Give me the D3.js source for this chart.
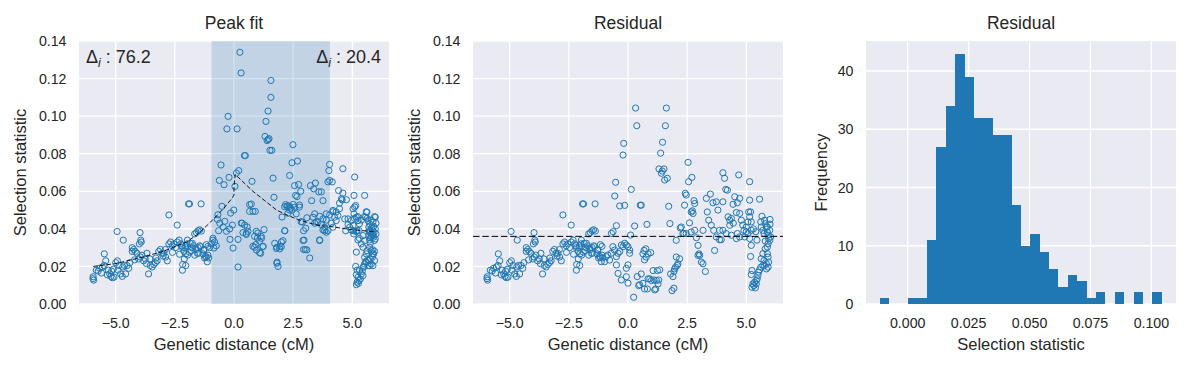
<!DOCTYPE html>
<html>
<head>
<meta charset="utf-8">
<script src="https://cdn.jsdelivr.net/npm/d3@7"></script>
<style>
  body { margin: 0; background: #ffffff; }
  svg text { font-family: "Liberation Sans", Arial, sans-serif; fill: #262626; }
</style>
</head>
<body>
<div id="chart"></div>
<script>
////////////////////////////////////////////////////////////////////////
// Data

// points left of the peak window, identical in both scatter panels
let flankPoints = [
  [-5.96,0.0135],[-5.93,0.0127],[-5.95,0.0145],[-5.82,0.018],[-5.74,0.0175],[-5.68,0.019],
  [-5.56,0.0197],[-5.49,0.0205],[-5.48,0.0267],[-5.42,0.023],[-5.31,0.018],[-5.25,0.016],
  [-5.2,0.0147],[-5.14,0.014],[-5.07,0.0143],[-5.17,0.0175],[-5.0,0.022],[-4.93,0.023],
  [-4.86,0.0205],[-4.94,0.0386],[-4.68,0.034],[-4.79,0.016],[-4.72,0.0147],[-4.58,0.016],
  [-4.7,0.0197],[-4.52,0.0205],[-4.45,0.019],[-4.63,0.0205],[-4.3,0.030],[-4.24,0.029],
  [-4.17,0.028],[-4.3,0.028],[-4.1,0.027],[-4.03,0.024],[-3.96,0.025],[-3.89,0.026],
  [-3.82,0.023],[-3.75,0.024],[-3.68,0.027],[-3.97,0.038],[-3.94,0.034],[-4.0,0.032],
  [-3.92,0.033],[-3.61,0.016],[-3.54,0.0205],[-3.46,0.0197],[-3.39,0.021],[-3.32,0.022],
  [-3.25,0.023],[-3.18,0.028],[-3.11,0.029],[-3.04,0.027],[-2.97,0.027],[-2.89,0.025],
  [-2.82,0.023],[-2.75,0.0474],[-2.4,0.042],[-2.75,0.032],[-2.68,0.033],[-2.61,0.031],
  [-2.54,0.032],[-2.47,0.030],[-2.4,0.033],[-2.32,0.034],[-2.25,0.032],[-2.18,0.030],
  [-2.11,0.028],[-2.04,0.031],[-1.97,0.034],[-2.18,0.018],[-2.04,0.0205],[-1.92,0.0533],
  [-1.88,0.0533],[-1.39,0.0533],[-1.66,0.0373],[-1.59,0.038],[-1.52,0.039],[-1.45,0.0395],
  [-1.38,0.0388],[-2.2,0.031],[-2.06,0.030],[-1.99,0.032],[-1.85,0.0323],[-1.78,0.030],
  [-1.71,0.031],[-2.17,0.021],[-2.1,0.024],[-2.03,0.0267],[-1.96,0.026],[-1.89,0.0276],
  [-1.66,0.026],[-1.59,0.029],[-1.52,0.030],[-1.45,0.031],[-1.31,0.0267],[-1.24,0.0245],
  [-1.17,0.025],[-1.1,0.026],[-1.28,0.029],[-1.17,0.0316],[-1.1,0.0307],[-1.21,0.0254],
  [-1.07,0.0245],[-5.6,0.0165],[-5.35,0.0155],[-5.1,0.0185],[-4.9,0.018],[-4.4,0.022],
  [-4.2,0.0235],[-3.7,0.0215],[-3.55,0.024],[-3.3,0.0245],[-3.0,0.0255],[-2.9,0.029],
  [-2.6,0.0275],[-2.3,0.0265],[-1.8,0.0285],[-1.5,0.027],[-1.76,0.0323],[-1.62,0.0296],
  [-1.55,0.027],[-1.41,0.0305],[-1.27,0.0287],[-1.13,0.0225]
];

// points from the peak window rightwards, "Peak fit" panel
let peakPoints = [
  [-1.03,0.030],[-0.96,0.032],[-0.89,0.034],[-0.82,0.033],[-0.75,0.031],[-0.89,0.035],
  [-0.85,0.0298],[0.25,0.134],[0.30,0.123],[1.56,0.119],[1.56,0.110],[1.44,0.1027],
  [1.35,0.0972],[-0.25,0.0999],[-0.30,0.0932],[0.13,0.0932],[1.31,0.0892],[1.40,0.087],
  [1.48,0.088],[1.44,0.0875],[1.52,0.0818],[1.60,0.0818],[0.44,0.079],[0.48,0.079],
  [-0.55,0.074],[-0.62,0.0658],[-0.42,0.0635],[-0.21,0.0674],[0.2,0.071],[0.1,0.0697],
  [0.04,0.0626],[0.76,0.0653],[1.65,0.067],[1.69,0.0568],[-0.51,0.052],[-0.14,0.0484],
  [-0.01,0.050],[0.66,0.0529],[0.73,0.0532],[0.66,0.0493],[0.80,0.0493],[0.9,0.0493],
  [2.03,0.0463],[2.18,0.0529],[2.28,0.0523],[2.35,0.050],[2.39,0.051],[-0.68,0.0475],
  [-0.7,0.045],[-0.6,0.043],[-0.39,0.044],[-0.46,0.041],[-0.65,0.039],[-0.32,0.0387],
  [-0.18,0.040],[-0.07,0.042],[0.34,0.043],[0.45,0.042],[0.56,0.041],[0.38,0.038],
  [0.52,0.037],[0.59,0.0387],[-0.17,0.0344],[0.17,0.0344],[-0.04,0.0298],[0.17,0.0197],
  [0.94,0.0387],[1.01,0.0378],[0.87,0.036],[0.99,0.0351],[1.15,0.036],[1.27,0.0396],
  [1.08,0.0334],[0.80,0.0307],[0.87,0.0302],[1.23,0.0307],[1.13,0.027],[0.92,0.0316],
  [1.82,0.0302],[1.94,0.0307],[2.0,0.033],[2.07,0.0337],[2.14,0.039],[1.93,0.0293],
  [1.82,0.0223],[1.86,0.020],[0.31,0.043],[0.52,0.0376],[1.16,0.035],[1.22,0.0305],
  [1.08,0.0273],[0.95,0.0287],[1.72,0.0323],[1.79,0.0296],[1.81,0.0217],[2.0,0.0305],
  [2.49,0.0848],[2.45,0.0752],[2.68,0.0761],[2.35,0.0684],[2.56,0.063],[2.73,0.0636],
  [2.82,0.060],[2.6,0.0578],[2.66,0.0572],[2.5,0.053],[2.35,0.052],[2.24,0.052],
  [2.76,0.0516],[2.45,0.050],[2.63,0.048],[2.15,0.039],[2.14,0.0518],[2.28,0.0483],
  [2.56,0.0515],[2.77,0.0527],[2.89,0.0436],[2.94,0.039],[2.92,0.0338],[2.96,0.034],
  [3.01,0.029],[3.08,0.0288],[3.2,0.0245],[2.94,0.029],[2.84,0.0438],[3.03,0.0403],
  [3.23,0.063],[3.44,0.0644],[3.37,0.0613],[3.58,0.0597],[3.69,0.0597],[3.76,0.055],
  [3.28,0.055],[3.41,0.048],[3.62,0.0467],[3.76,0.0453],[3.9,0.048],[3.34,0.0462],
  [3.08,0.0459],[3.55,0.0436],[3.69,0.0423],[3.83,0.0409],[3.97,0.039],[3.62,0.0338],
  [3.83,0.039],[3.9,0.0382],[3.41,0.043],[3.48,0.0438],[3.62,0.0341],[3.76,0.0394],
  [3.9,0.0447],[4.04,0.0474],[4.11,0.043],[4.18,0.0491],
  [4.15,0.065],[4.04,0.0743],[4.01,0.071],[4.04,0.0658],[3.97,0.065],[4.6,0.072],
  [5.1,0.0676],[4.18,0.0498],[4.32,0.049],[4.25,0.0462],[4.39,0.0471],[4.46,0.0507],
  [4.42,0.0604],[4.6,0.059],[4.75,0.0555],[4.54,0.056],[4.46,0.0537],[4.57,0.0554],
  [4.68,0.0453],[4.82,0.0453],[4.72,0.039],[5.06,0.0373],[4.18,0.0409],[4.32,0.0444],
  [5.07,0.0578],[5.1,0.0516],[5.03,0.0507],[5.14,0.0524],[5.07,0.048],[5.17,0.0462],
  [5.24,0.0444],[5.3,0.0427],[4.96,0.0444],[5.03,0.0418],[4.89,0.0409],[4.82,0.0423],
  [5.2,0.039],[5.28,0.0391],[4.95,0.0394],[5.16,0.0385],[5.3,0.035],[5.09,0.0456],
  [5.23,0.0465],[5.38,0.0447],[5.51,0.0465],[5.59,0.0491],[5.63,0.0456],
  [5.24,0.0341],[5.17,0.0276],[5.14,0.020],[5.2,0.018],[5.17,0.0156],[5.24,0.0142],
  [5.2,0.0116],[5.17,0.0103],[5.28,0.0124],[5.34,0.0133],[5.38,0.016],[5.42,0.0174],
  [5.48,0.0196],[5.52,0.0213],[5.45,0.0151],[5.59,0.0222],[5.52,0.0249],[5.59,0.0267],
  [5.62,0.0284],[5.65,0.0234],[5.56,0.0225],[5.47,0.0199],[5.3,0.0181],[5.26,0.011],
  [5.52,0.0578],[5.62,0.0489],[5.56,0.0462],[5.66,0.0444],[5.73,0.0427],[5.7,0.0409],
  [5.76,0.039],[5.8,0.0373],[5.87,0.0364],[5.9,0.0356],[5.93,0.0338],[5.97,0.0347],
  [5.86,0.039],[5.92,0.0382],[5.83,0.0409],[5.7,0.039],[5.73,0.0382],[5.7,0.0364],
  [5.76,0.0352],[5.97,0.0462],[6.0,0.043],[5.97,0.040],[6.0,0.0373],[5.87,0.0436],
  [5.9,0.0413],[5.94,0.0465],[5.8,0.0447],[5.73,0.0302],[5.8,0.0284],[5.87,0.0288],
  [5.9,0.0267],[5.85,0.0249],[5.94,0.028],[5.76,0.024],[5.7,0.0231],[5.8,0.0213],
  [5.87,0.0204],[5.94,0.0231],[5.73,0.0204],[5.66,0.0204],[5.85,0.0267],[5.76,0.0323],
  [5.73,0.0341],[5.8,0.0358],[5.87,0.0376],[5.03,0.039],[5.45,0.0364],[5.52,0.0338],
  [5.38,0.032],[5.45,0.0302]
];

// points from the peak window rightwards, "Residual" panel
let residualPoints = [
  [-0.99,0.0225],[-0.92,0.0252],[-0.85,0.0261],[-0.78,0.0234],[-0.71,0.027],[-0.64,0.0305],
  [-0.57,0.0287],[-0.49,0.0252],[-0.42,0.027],[-0.35,0.0279],[-0.28,0.0314],[-0.21,0.0305],
  [-0.14,0.0323],[-0.07,0.0314],[0.0,0.0305],[0.07,0.0287],[0.0,0.0208],[-0.07,0.019],
  [-0.49,0.0208],[-0.42,0.0163],[-0.28,0.0128],[-0.07,0.0145],[0.0,0.0111],[0.07,0.027],
  [-0.63,0.0385],[-0.7,0.0376],[-0.49,0.0417],[-0.56,0.0575],[-0.52,0.0648],[-0.35,0.0522],
  [-0.14,0.0525],[-0.21,0.0793],[-0.18,0.0855],[0.14,0.061],[0.28,0.0415],[0.11,0.0367],
  [0.32,0.1043],[0.37,0.0949],[0.52,0.0526],[0.56,0.0526],[0.8,0.0424],[1.62,0.1043],
  [1.58,0.0949],[1.46,0.0861],[1.38,0.0803],[1.31,0.0719],[1.41,0.0696],[1.52,0.0719],
  [1.45,0.0708],[1.55,0.066],[1.66,0.0669],[1.72,0.052],[1.77,0.0428],[0.24,0.0036],
  [0.39,0.0146],[0.49,0.0103],[0.45,0.0098],[0.56,0.016],[0.63,0.011],[0.7,0.008],
  [0.82,0.008],[0.85,0.0134],[0.92,0.0134],[0.99,0.0125],[1.06,0.0178],[1.1,0.0128],
  [1.2,0.0125],[1.27,0.0107],[1.13,0.0075],[1.3,0.0128],[1.24,0.0178],[1.34,0.0182],
  [1.17,0.008],[0.68,0.0285],[0.75,0.0294],[0.85,0.0267],[0.77,0.025],[0.96,0.0273],
  [0.63,0.0267],[0.7,0.0235],[1.8,0.016],[1.9,0.0146],[1.94,0.0173],[2.01,0.0196],
  [2.08,0.0205],[1.86,0.0071],[1.94,0.0084],[2.18,0.0241],[2.04,0.025],[2.11,0.0214],
  [1.97,0.0187],[2.04,0.0339],[2.21,0.0405],[2.25,0.041],[2.32,0.0375],[2.36,0.0375],
  [2.46,0.0375],[2.42,0.0589],[2.39,0.0526],[2.46,0.058],[2.6,0.0432],[2.67,0.049],
  [2.75,0.0482],[2.72,0.0496],[2.79,0.055],[2.82,0.0535],[2.56,0.0651],[2.7,0.0674],
  [2.54,0.0754],[2.67,0.0383],[2.82,0.0392],[2.89,0.0353],[2.96,0.0312],[3.0,0.0267],
  [3.03,0.0259],[3.1,0.0223],[3.17,0.0214],[3.27,0.0173],[2.96,0.0259],[3.17,0.0392],
  [3.31,0.0562],[3.48,0.0585],[3.35,0.049],[3.41,0.0446],[3.52,0.0419],[3.59,0.0539],
  [3.73,0.0544],[3.8,0.05],[3.62,0.0392],[3.87,0.0342],[3.94,0.0342],[3.66,0.0285],
  [3.73,0.0357],[3.87,0.0392],[4.01,0.0392],[4.15,0.0375],[4.01,0.0544],
  [4.01,0.0699],[4.08,0.0669],[4.13,0.061],[4.2,0.0606],[4.23,0.0464],[4.3,0.0446],
  [4.37,0.0455],[4.3,0.0419],[4.51,0.0571],[4.44,0.0531],[4.62,0.0539],[4.72,0.0562],
  [4.68,0.0687],[4.58,0.0487],[4.72,0.0482],[4.79,0.0446],[4.37,0.0366],[4.62,0.0375],
  [4.72,0.0357],[4.58,0.0348],[5.14,0.0651],[5.14,0.0553],[5.1,0.049],[5.18,0.049],
  [5.14,0.0464],[5.21,0.0437],[5.07,0.0437],[5.0,0.041],[4.9,0.0392],[5.07,0.0375],
  [4.93,0.0357],[5.14,0.0348],[5.21,0.0392],[5.56,0.0558],[5.66,0.0467],[5.61,0.0437],
  [5.77,0.0446],[5.8,0.0428],[5.85,0.041],[5.89,0.0383],[5.92,0.0366],[5.94,0.0348],
  [5.99,0.0339],[5.75,0.0375],[5.7,0.0392],[5.63,0.041],[5.8,0.0335],[5.92,0.0321],
  [6.03,0.0357],[5.99,0.0392],[5.89,0.041],[5.21,0.0312],[5.18,0.0253],[5.24,0.0178],
  [5.21,0.0157],[5.28,0.0107],[5.24,0.0089],[5.32,0.0098],[5.35,0.0116],[5.42,0.0125],
  [5.46,0.0134],[5.49,0.0152],[5.52,0.017],[5.56,0.0182],[5.61,0.0196],[5.38,0.0086],
  [5.42,0.0107],[5.63,0.0241],[5.7,0.0268],[5.75,0.0232],[5.77,0.0205],[5.85,0.0214],
  [5.89,0.0268],[5.92,0.025],[5.94,0.0223],[5.92,0.0196],[5.85,0.0187],[5.7,0.0205],
  [5.8,0.0294],[5.89,0.0303],[4.45,0.043],[4.85,0.042],[5.3,0.04],[5.4,0.0385],
  [5.0,0.0385],[5.45,0.034],[6.0,0.045],[6.0,0.0425]
];

// dashed peak-fit curve, read along its length
let fitX = [-5.95, -5.0, -4.0, -3.0, -2.0, -1.5, -1.0, -0.5, -0.1, 0.0, 0.0, 0.05,
            0.3, 0.8, 1.3, 1.8, 2.3, 2.8, 3.5, 4.2, 5.0, 5.95];
let fitY = [0.020, 0.0215, 0.0245, 0.028, 0.033, 0.0375, 0.0435, 0.050, 0.056, 0.058, 0.063, 0.069,
            0.066, 0.060, 0.055, 0.050, 0.047, 0.0445, 0.042, 0.041, 0.0395, 0.0385];

let windowLeft = -0.95, windowRight = 4.05;   // shaded peak window (cM)
let deltaLeft = "76.2", deltaRight = "20.4";
let residualLevel = 0.036;

// histogram of the residual statistic
let histStart = -0.01134;
let histBinWidth = 0.003853;
let histCounts = [1, 0, 0, 1, 1, 11, 27, 34, 43, 39, 32, 32, 29, 29, 17,
                  10, 12, 9, 6, 3, 5, 4, 1, 2, 0, 2, 0, 2, 0, 2];

let scatterYTicks = [0, 0.02, 0.04, 0.06, 0.08, 0.10, 0.12, 0.14];
let scatterXTicks = [-5, -2.5, 0, 2.5, 5];
let histXTicks = [0, 0.025, 0.05, 0.075, 0.1];
let histYTicks = [0, 10, 20, 30, 40];

////////////////////////////////////////////////////////////////////////
// Layout helpers

let width = 1191, height = 368;
let plotW = 310, plotH = 263, plotTop = 41;
let blue = "#1f77b4";

let svg = d3.select("#chart").append("svg")
  .attr("width", width)
  .attr("height", height);

function minusFmt(f) {
  return function(v) { return f(v).replace("-", "\u2212"); };
}

// sets up one seaborn-darkgrid style axes, returns group + scales
function createPanel(left, xDomain, yDomain, xTicks, yTicks, xFmt, yFmt, title, xLabel, yLabel, yLabelOffset) {
  let x = d3.scaleLinear().domain(xDomain).range([0, plotW]);
  let y = d3.scaleLinear().domain(yDomain).range([plotH, 0]);
  let g = svg.append("g").attr("transform", "translate(" + left + "," + plotTop + ")");

  g.append("rect").attr("width", plotW).attr("height", plotH).attr("fill", "#eaeaf2");

  let grid = g.append("g").attr("stroke", "#ffffff").attr("stroke-width", 1.3);
  grid.selectAll(".gx").data(xTicks).enter().append("line")
    .attr("x1", d => x(d)).attr("x2", d => x(d)).attr("y1", 0).attr("y2", plotH);
  grid.selectAll(".gy").data(yTicks).enter().append("line")
    .attr("y1", d => y(d)).attr("y2", d => y(d)).attr("x1", 0).attr("x2", plotW);

  g.selectAll(".xt").data(xTicks).enter().append("text")
    .attr("x", d => x(d)).attr("y", plotH + 24)
    .attr("text-anchor", "middle").attr("font-size", 14.2)
    .text(xFmt);
  g.selectAll(".yt").data(yTicks).enter().append("text")
    .attr("x", -12.5).attr("y", d => y(d)).attr("dy", "0.36em")
    .attr("text-anchor", "end").attr("font-size", 14.2)
    .text(yFmt);

  svg.append("text").attr("x", left + plotW / 2).attr("y", 29)
    .attr("text-anchor", "middle").attr("font-size", 17.5).text(title);
  svg.append("text").attr("x", left + plotW / 2).attr("y", 350)
    .attr("text-anchor", "middle").attr("font-size", 16.5).text(xLabel);
  svg.append("text")
    .attr("transform", "translate(" + (left - yLabelOffset) + "," + (plotTop + plotH / 2) + ") rotate(-90)")
    .attr("text-anchor", "middle").attr("font-size", 16.5).text(yLabel);

  return { g: g, x: x, y: y };
}

function drawPoints(p, pts) {
  p.g.append("g").selectAll("circle").data(pts).enter().append("circle")
    .attr("cx", d => p.x(d[0])).attr("cy", d => p.y(d[1]))
    .attr("r", 3.1)
    .attr("fill", "none").attr("stroke", blue).attr("stroke-width", 1);
}

function drawDelta(p, xPos, anchor, value) {
  let t = p.g.append("text").attr("x", xPos).attr("y", 22)
    .attr("text-anchor", anchor).attr("font-size", 18);
  t.append("tspan").text("\u0394");
  t.append("tspan").attr("font-style", "italic").attr("font-size", 12.5)
    .attr("dy", 4).text("i");
  t.append("tspan").attr("dy", -4).text(" : " + value);
}

let xDom = [-6.55, 6.55];
let yDom = [0, 0.14];
let fmtX = minusFmt(d3.format(".1f"));
let fmtY = d3.format(".2f");

////////////////////////////////////////////////////////////////////////
// Panel 1: peak fit

let p1 = createPanel(79, xDom, yDom, scatterXTicks, scatterYTicks, fmtX, fmtY,
  "Peak fit", "Genetic distance (cM)", "Selection statistic", 53);

p1.g.append("rect")
  .attr("x", p1.x(windowLeft)).attr("y", 0)
  .attr("width", p1.x(windowRight) - p1.x(windowLeft)).attr("height", plotH)
  .attr("fill", blue).attr("fill-opacity", 0.2);

drawPoints(p1, flankPoints.concat(peakPoints));

let fitLine = d3.line().x(d => p1.x(d[0])).y(d => p1.y(d[1]));
p1.g.append("path")
  .attr("d", fitLine(d3.zip(fitX, fitY)))
  .attr("fill", "none").attr("stroke", "#000000").attr("stroke-width", 0.9)
  .attr("stroke-dasharray", "4.5,2.2");

drawDelta(p1, 7, "start", deltaLeft);
drawDelta(p1, plotW - 8, "end", deltaRight);

////////////////////////////////////////////////////////////////////////
// Panel 2: residual scatter

let p2 = createPanel(473, xDom, yDom, scatterXTicks, scatterYTicks, fmtX, fmtY,
  "Residual", "Genetic distance (cM)", "Selection statistic", 53);

drawPoints(p2, flankPoints.concat(residualPoints));

p2.g.append("line")
  .attr("x1", 0).attr("x2", plotW)
  .attr("y1", p2.y(residualLevel)).attr("y2", p2.y(residualLevel))
  .attr("stroke", "#000000").attr("stroke-width", 1)
  .attr("stroke-dasharray", "6.5,2.8");

////////////////////////////////////////////////////////////////////////
// Panel 3: histogram of residuals

let bins = histCounts.map((c, i) => ({
  x0: histStart + i * histBinWidth,
  x1: histStart + (i + 1) * histBinWidth,
  count: c
}));

let p3 = createPanel(866, [-0.0171, 0.1101], [0, 45.15], histXTicks, histYTicks,
  d3.format(".3f"), d3.format("d"), "Residual", "Selection statistic", "Frequency", 39);

p3.g.append("g").selectAll("rect").data(bins.filter(b => b.count > 0)).enter().append("rect")
  .attr("x", d => p3.x(d.x0))
  .attr("width", d => p3.x(d.x1) - p3.x(d.x0))
  .attr("y", d => p3.y(d.count))
  .attr("height", d => p3.y(0) - p3.y(d.count))
  .attr("fill", blue)
  .attr("shape-rendering", "crispEdges");
</script>
</body>
</html>
